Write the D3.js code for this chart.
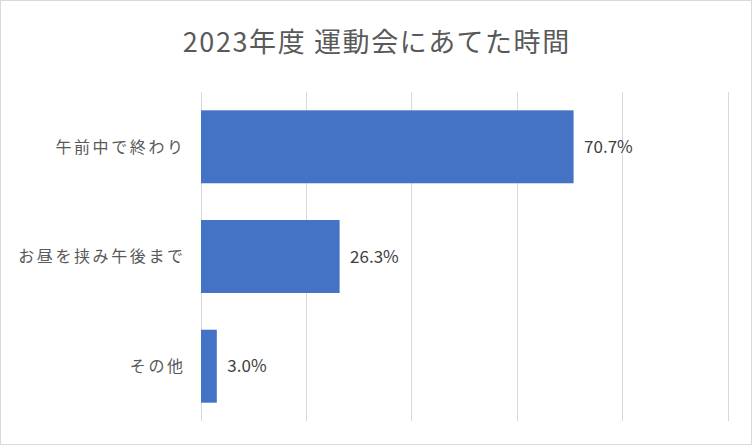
<!DOCTYPE html>
<html><head><meta charset="utf-8">
<script src="https://cdn.jsdelivr.net/npm/d3@7"></script>
<style>
html,body{margin:0;padding:0;background:#fff;}
svg{display:block;font-family:"Noto Sans CJK JP","Noto Sans",sans-serif;}
</style></head>
<body>
<svg id="chart" width="752" height="445"></svg>
<script>
const title = "2023年度 運動会にあてた時間";
const categories = ["午前中で終わり", "お昼を挟み午後まで", "その他"];
const values = [70.7, 26.3, 3.0];
const xTicks = [0, 20, 40, 60, 80, 100];

const W = 752, H = 445;
const svg = d3.select("#chart");

svg.append("rect").attr("x", 0.5).attr("y", 0.5).attr("width", W - 1).attr("height", H - 1)
  .attr("fill", "#fff").attr("stroke", "#d9d9d9").attr("stroke-width", 1);

const x = d3.scaleLinear().domain([0, 100]).range([200.5, 727.5]);
const y = d3.scaleBand().domain(categories).range([92, 421]).paddingInner(0.335).paddingOuter(0.167);

// gridlines
svg.append("g").selectAll("line").data(xTicks).join("line")
  .attr("x1", d => Math.round(x(d)) + 0.5).attr("x2", d => Math.round(x(d)) + 0.5)
  .attr("y1", 92).attr("y2", 421)
  .attr("stroke", "#d9d9d9").attr("stroke-width", 1);

// bars
svg.append("g").selectAll("rect").data(values).join("rect")
  .attr("x", x(0) + 0.5)
  .attr("y", (d, i) => y(categories[i]))
  .attr("width", d => x(d) - x(0))
  .attr("height", y.bandwidth())
  .attr("fill", "#4472c4");

// data labels
svg.append("g").selectAll("text").data(values).join("text")
  .attr("x", d => x(d) + 11)
  .attr("y", (d, i) => y(categories[i]) + y.bandwidth() / 2)
  .attr("dy", "0.36em")
  .attr("font-size", 17)
  .attr("fill", "#404040")
  .text(d => d.toFixed(1) + "%");

// category labels
const ls = 2.6;
svg.append("g").selectAll("text").data(categories).join("text")
  .attr("x", 183 + ls)
  .attr("y", d => y(d) + y.bandwidth() / 2)
  .attr("dy", "0.36em")
  .attr("text-anchor", "end")
  .attr("font-size", 16)
  .attr("letter-spacing", ls)
  .attr("fill", "#595959")
  .text(d => d);

// title
svg.append("text")
  .attr("x", W / 2 + 0.8).attr("y", 52)
  .attr("text-anchor", "middle")
  .attr("font-size", 27)
  .attr("letter-spacing", 1.6)
  .attr("fill", "#595959")
  .text(title);
</script>
</body></html>
